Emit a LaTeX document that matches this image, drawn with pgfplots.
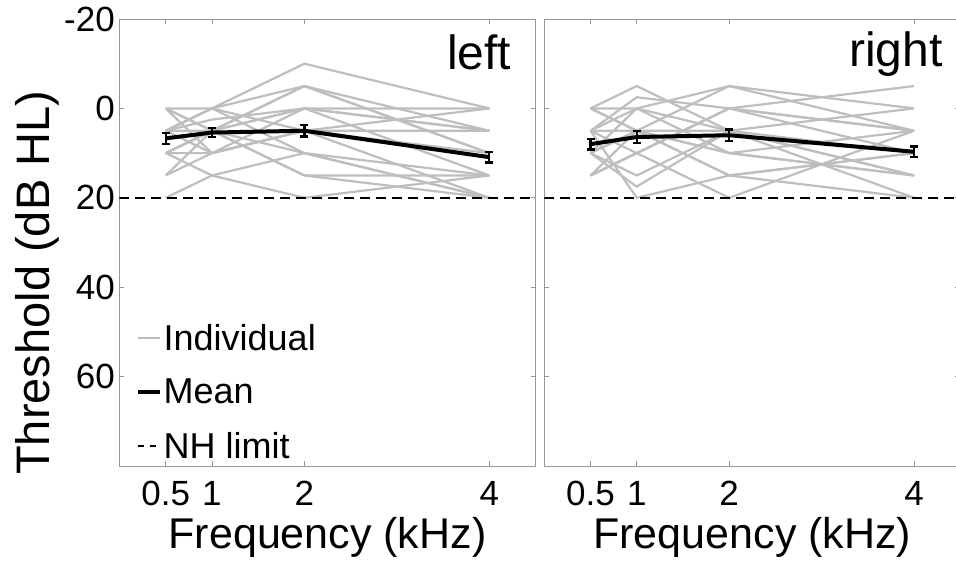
\documentclass[border=0pt]{standalone}
\usepackage{fontspec}
\setmainfont{Liberation Sans}
\usepackage{pgfplots}
\usepackage{pgfplotstable}
\pgfplotsset{compat=1.18}
\definecolor{indiv}{RGB}{190,190,190}
\definecolor{axgray}{RGB}{150,150,150}

% individual thresholds (rows: frequency kHz, columns: subjects)
\pgfplotstableread{
f s1 s2 s3 s4 s5 s6 s7 s8 s9 s10 s11 s12 s13 s14 s15 s16 s17 s18
0.5 5 0 10 5 0 10 5 15 20 5 10 0 5 10 15 0 5 10
1 0 0 5 10 5 10 5 10 15 0 5 10 2.5 15 5 5 0 5
2 -10 -5 -5 0 0 5 10 5 10 5 15 5 0 20 -5 15 10 0
4 0 5 10 15 0 20 15 10 20 5 20 0 5 15 10 15 20 5
}\lefttab
\pgfplotstableread{
f s1 s2 s3 s4 s5 s6 s7 s8 s9 s10 s11 s12 s13 s14 s15 s16 s17 s18
0.5 0 5 10 15 5 0 10 15 5 10 5 15 0 10 5 10 15 0
1 -5 -2.5 0 5 10 5 17.5 10 0 15 5 10 0 5 20 5 10 5
2 5 0 -5 10 0 15 5 20 5 5 15 0 10 -5 15 5 0 10
4 10 5 0 5 -5 10 15 5 15 0 20 10 15 5 10 20 5 15
}\righttab
\pgfplotstableread{
f m e
0.5 6.7 1.2
1 5.4 1.0
2 5.0 1.3
4 10.9 1.2
}\leftmean
\pgfplotstableread{
f m e
0.5 8.0 1.2
1 6.4 1.3
2 6.0 1.3
4 9.7 1.2
}\rightmean

\pgfplotsset{
  panel/.style={
    scale only axis, width=416bp, height=447bp,
    xmin=0, xmax=4.5, ymin=-20, ymax=80, y dir=reverse,
    xtick={0.5,1,2,4}, xticklabels={0.5,1,2,4},
    ytick={-20,0,20,40,60},
    axis line style={axgray, line width=0.8bp},
    tick style={axgray, line width=0.8bp},
    major tick length=5bp,
    tick label style={font=\fontsize{35bp}{38bp}\selectfont, inner sep=0pt},
    yticklabel style={xshift=-4.5bp},
    xticklabel style={yshift=-15bp},
    /pgf/number format/assume math mode=true,
    xlabel={Frequency (kHz)},
    xlabel style={font=\fontsize{43bp}{46bp}\selectfont, at={(axis description cs:0.5,0)}, anchor=base, yshift=-82bp, inner sep=0pt},
  },
  indivline/.style={indiv, line width=2.2bp, forget plot},
  meanline/.style={black, line width=4bp, forget plot,
    error bars/.cd, y dir=both, y explicit,
    error bar style={line width=2.4bp, black},
    error mark options={rotate=90, mark size=4bp, line width=2.4bp, black}},
  nhline/.style={black, line width=1.8bp, dash pattern=on 10bp off 6bp, forget plot},
}

\begin{document}
\begin{tikzpicture}
\useasboundingbox (-119.5bp,-98bp) rectangle (836.5bp,466bp);
\begin{axis}[panel,
  yticklabels={-20,0,20,40,60},
  ylabel={Threshold (dB HL)},
  ylabel style={font=\fontsize{47bp}{50bp}\selectfont, at={(axis description cs:0,0.41)}, anchor=base, rotate=0, yshift=69.5bp, inner sep=0pt},
  legend style={draw=none, fill=none, at={(axis description cs:0,0)}, anchor=south west, xshift=13bp, yshift=2bp,
    font=\fontsize{36bp}{38bp}\selectfont, row sep=23bp},
  legend cell align=left,
]
\pgfplotsinvokeforeach{1,...,18}{
  \addplot[indivline] table[x=f, y=s#1]{\lefttab};
}
\addplot[nhline] coordinates {(0,20) (4.5,20)};
\addplot[meanline] table[x=f, y=m, y error=e]{\leftmean};
\addlegendimage{legend image code/.code={\draw[indiv, line width=2bp] (0cm,0cm) -- (22bp,0cm);}}
\addlegendentry{Individual}
\addlegendimage{legend image code/.code={\draw[black, line width=4bp] (0cm,0cm) -- (22bp,0cm);}}
\addlegendentry{Mean}
\addlegendimage{legend image code/.code={\draw[black, line width=1.8bp, dash pattern=on 6bp off 6bp] (0cm,0cm) -- (22bp,0cm);}}
\addlegendentry{NH limit}
\node[anchor=base east, inner sep=0pt, font=\fontsize{48bp}{50bp}\selectfont] at (axis cs:4.24,-8.6) {left};
\end{axis}
\begin{axis}[panel, at={(424.8bp,0)}, anchor=south west,
  yticklabels={},
]
\pgfplotsinvokeforeach{1,...,18}{
  \addplot[indivline] table[x=f, y=s#1]{\righttab};
}
\addplot[nhline] coordinates {(0,20) (4.5,20)};
\addplot[meanline] table[x=f, y=m, y error=e]{\rightmean};
\node[anchor=base east, inner sep=0pt, font=\fontsize{48bp}{50bp}\selectfont] at (axis cs:4.31,-9.3) {right};
\end{axis}
\end{tikzpicture}
\end{document}
